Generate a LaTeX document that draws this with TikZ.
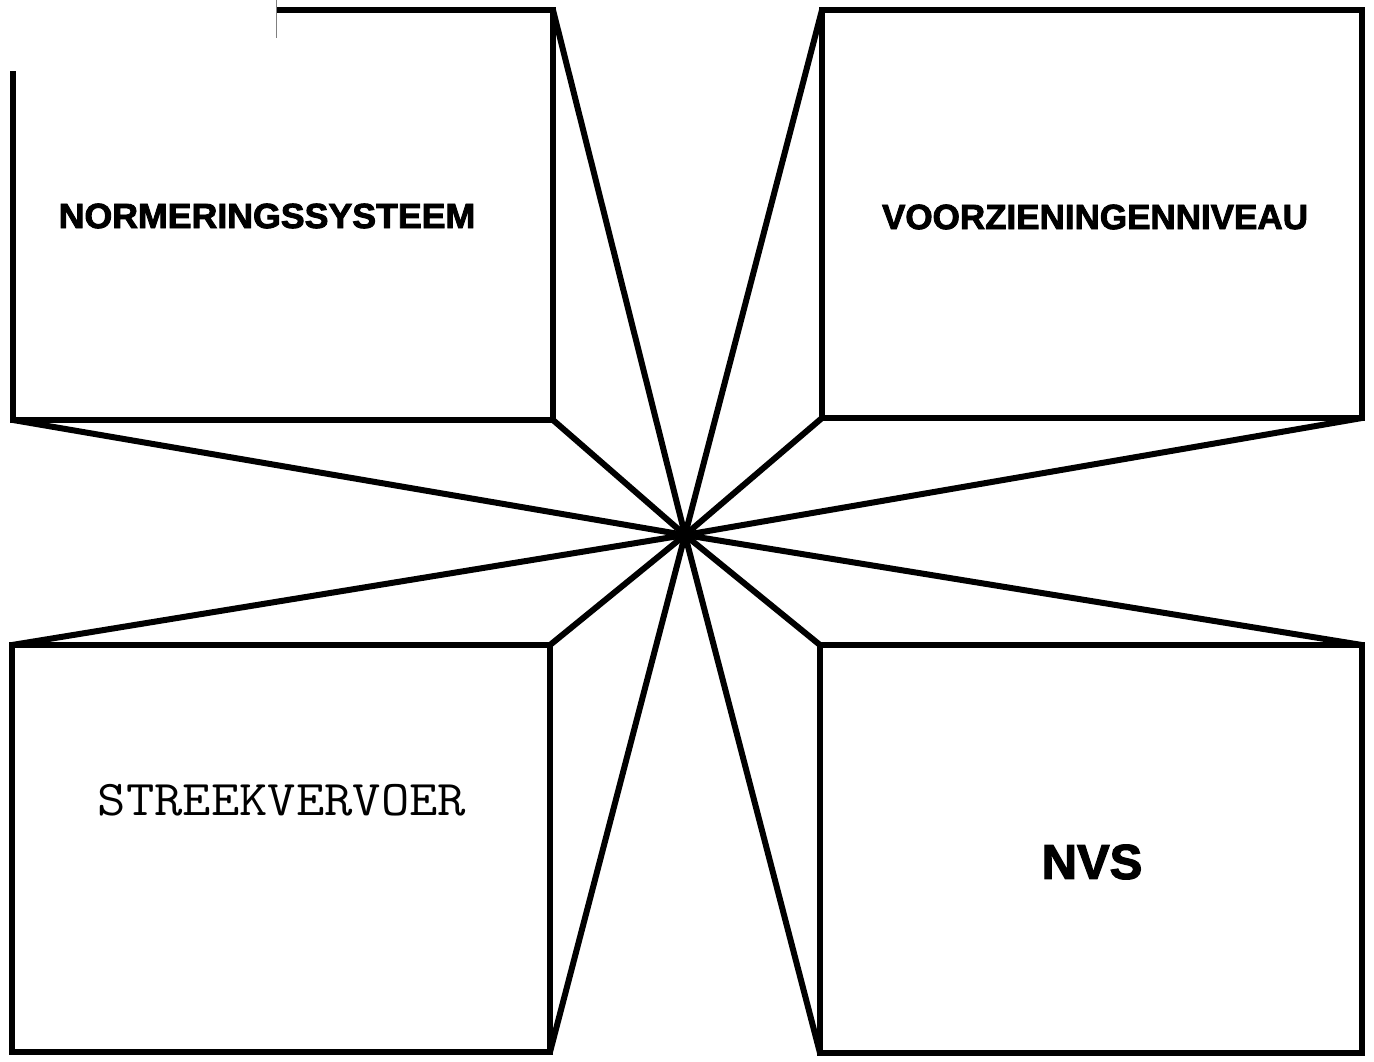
\documentclass[tikz,border=0pt]{standalone}
\usepackage{fontspec}
\setmainfont{Liberation Sans}[BoldFeatures={FakeBold=2.5}]
\begin{document}
\begin{tikzpicture}[x=1pt,y=-1pt,
  quad/.style={draw=black, line width=6.5pt, rectangle, outer sep=0pt, inner sep=0pt, line join=miter},
  spoke/.style={draw=black, line width=6pt, line cap=round, line join=round},
  boldlabel/.style={font=\fontsize{35}{40}\selectfont\bfseries, inner sep=0pt},
  ]
\useasboundingbox (0,0) rectangle (1374,1061);
\fill[white] (0,0) rectangle (1374,1061);
% boxes
\node[quad, minimum width=540pt, minimum height=410pt] (tl) at (283,215) {};
\node[quad, minimum width=540pt, minimum height=408pt] (tr) at (1092,214) {};
\node[quad, minimum width=538pt, minimum height=407pt] (bl) at (281,848.5) {};
\node[quad, minimum width=542pt, minimum height=408pt] (br) at (1091,849) {};
\coordinate (c) at (685,535);
% spokes
\draw[spoke] (tl.north east) -- (c);
\draw[spoke] (tl.south east) -- (c);
\draw[spoke] (tl.south west) -- (c);
\draw[spoke] (tr.north west) -- (c);
\draw[spoke] (tr.south west) -- (c);
\draw[spoke] (tr.south east) -- (c);
\draw[spoke] (bl.north west) -- (c);
\draw[spoke] (bl.north east) -- (c);
\draw[spoke] (bl.south east) -- (c);
\draw[spoke] (br.north east) -- (c);
\draw[spoke] (br.north west) -- (c);
\draw[spoke] (br.south west) -- (c);
% corner patch hiding top-left corner (as in the scan)
\fill[white] (0,0) rectangle (276,71);
\draw[gray, line width=0.8pt] (276,0) -- (276,38);
% labels
\node[boldlabel] (t1) at (267,216) {\scalebox{1.02}[1]{NORMERINGSSYSTEEM}};
\node[boldlabel] (t2) at (1095,217) {VOORZIENINGENNIVEAU};
\node[font=\ttfamily\fontsize{50}{54}\selectfont, inner sep=0pt] (t3) at (282,800) {\scalebox{1.1}[1]{STREEKVERVOER}};
\node[font=\fontsize{49}{56}\selectfont\bfseries, inner sep=0pt] (t4) at (1092,862) {NVS};
\end{tikzpicture}
\end{document}
